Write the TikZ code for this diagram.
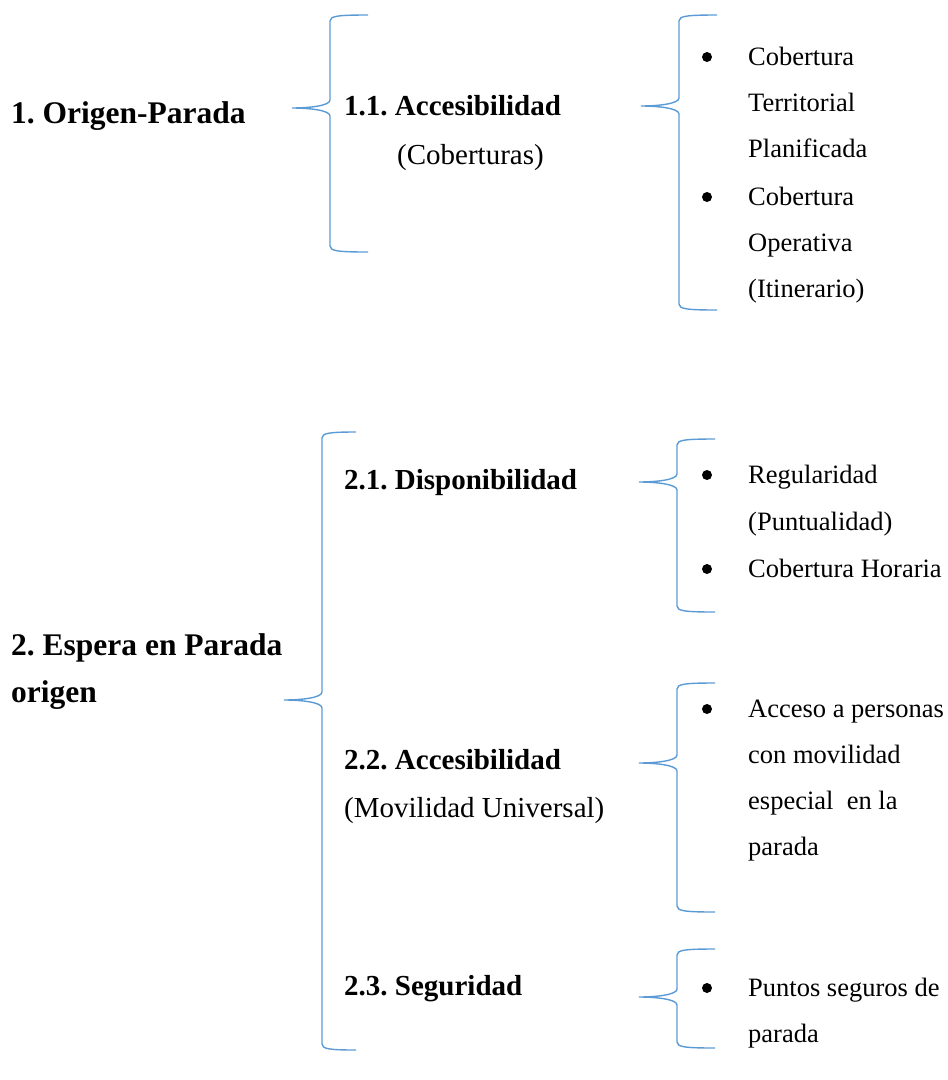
\documentclass[tikz,border=0pt]{standalone}
\usepackage{fontspec}
\setmainfont{Liberation Serif}
\definecolor{braceblue}{RGB}{91,155,213}
\frenchspacing

% curly brace: #1 tip x, #2 spine x, #3 end x, #4 top y, #5 tip y, #6 bottom y
\newcommand\wordbrace[6]{%
  \draw[bracestyle] (#3,#4) .. controls (#2+8,#4) and (#2,#4+1) .. (#2,#4+6)
    -- (#2,#5-8) .. controls (#2,#5-2) and (#1+16,#5) .. (#1,#5)
    .. controls (#1+16,#5) and (#2,#5+2) .. (#2,#5+8)
    -- (#2,#6-6) .. controls (#2,#6-1) and (#2+8,#6) .. (#3,#6);}

\begin{document}
\begin{tikzpicture}[x=1pt,y=-1pt,
  bracestyle/.style={draw=braceblue,line width=1.4pt},
  txt/.style={inner sep=0pt,anchor=base west,text=black},
  mainhead/.style={txt,font=\fontsize{31.5}{38}\selectfont\bfseries},
  subhead/.style={txt,font=\fontsize{29}{35}\selectfont\bfseries},
  subnote/.style={txt,font=\fontsize{29}{35}\selectfont},
  item/.style={txt,font=\fontsize{26.5}{32}\selectfont},
  dot/.style={circle,fill=black,inner sep=0pt,minimum size=10pt}]
\useasboundingbox (0,0) rectangle (948,1080);

% ---- block 1
\node[mainhead] (h1) at (11,123) {1. Origen-Parada};
\node[subhead] (h11) at (344,115) {1.1. Accesibilidad};
\node[subnote] (h11n) at (397,164) {(Coberturas)};

\node[dot] (d1) at (707,57) {};
\node[item] (t1a) at (748,65) {Cobertura};
\node[item] (t1b) at (748,111) {Territorial};
\node[item] (t1c) at (748,157) {Planificada};
\node[dot] (d2) at (707,197) {};
\node[item] (t2a) at (748,205) {Cobertura};
\node[item] (t2b) at (748,251) {Operativa};
\node[item] (t2c) at (748,297) {(Itinerario)};

\wordbrace{292}{330}{368}{15}{108}{252}
\wordbrace{641}{679}{717}{15}{106}{310}

% ---- block 2
\node[mainhead] (h2a) at (11,655) {2. Espera en Parada};
\node[mainhead] (h2b) at (11,702) {origen};

\node[subhead] (h21) at (344,489) {2.1. Disponibilidad};
\node[subhead] (h22) at (344,769) {2.2. Accesibilidad};
\node[subnote] (h22n) at (344,817) {(Movilidad Universal)};
\node[subhead] (h23) at (344,995) {2.3. Seguridad};

\node[dot] (d3) at (707,475) {};
\node[item] (t3a) at (748,483) {Regularidad};
\node[item] (t3b) at (748,530) {(Puntualidad)};
\node[dot] (d4) at (707,569) {};
\node[item] (t4a) at (748,577) {Cobertura Horaria};

\node[dot] (d5) at (707,709) {};
\node[item] (t5a) at (748,717) {Acceso a personas};
\node[item] (t5b) at (748,763) {con movilidad};
\node[item] (t5c) at (748,809) {especial\ \ en la};
\node[item] (t5d) at (748,855) {parada};

\node[dot] (d6) at (707,988) {};
\node[item] (t6a) at (748,996) {Puntos seguros de};
\node[item] (t6b) at (748,1042) {parada};

\wordbrace{284}{322}{356}{432}{700}{1050}
\wordbrace{639}{677}{715}{439}{482}{612}
\wordbrace{639}{677}{715}{683}{763}{912}
\wordbrace{639}{677}{715}{949}{997}{1048}
\end{tikzpicture}
\end{document}
